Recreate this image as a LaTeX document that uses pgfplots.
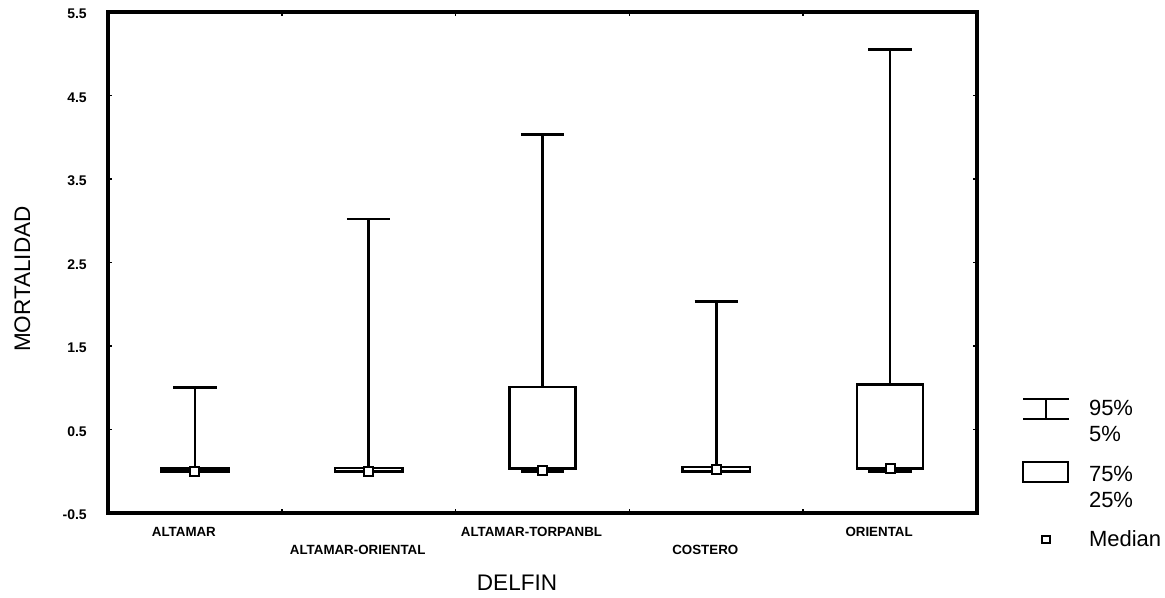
\documentclass[border=0pt]{standalone}
\usepackage{fontspec}
\setmainfont{Liberation Sans}
\usepackage{pgfplots}
\pgfplotsset{compat=1.18}
\usepgfplotslibrary{statistics}

\begin{document}
\begin{tikzpicture}
\useasboundingbox (-81pt,-63.75pt) rectangle (792.75pt,384.75pt);
\begin{axis}[
  at={(0pt,0pt)}, anchor=south west,
  scale only axis,
  width=651.75pt, height=375.75pt,
  xmin=-0.5, xmax=4.5,
  ymin=-0.5, ymax=5.5,
  axis line style={line width=2.3pt},
  tick style={line width=1.2pt, black},
  major tick length=3pt, minor tick length=3pt,
  ytick={-0.5,0.5,1.5,2.5,3.5,4.5,5.5},
  yticklabel style={font=\bfseries\fontsize{10.5}{12}\selectfont, inner sep=0pt, xshift=-15.75pt, yshift=-1.5pt},
  /pgf/number format/.cd, fixed, fixed zerofill, precision=1, assume math mode=true,
  /pgfplots/.cd,
  xtick={0,1,2,3,4},
  major x tick style={draw=none},
  minor xtick={0.5,1.5,2.5,3.5},
  xticklabels={ALTAMAR, \raisebox{-13.5pt}[\height][\depth]{ALTAMAR-ORIENTAL}, ALTAMAR-TORPANBL, \raisebox{-13.5pt}[\height][\depth]{COSTERO}, ORIENTAL},
  xticklabel style={font=\bfseries\fontsize{10}{12}\selectfont, inner sep=0pt, yshift=-10.5pt, xshift=-8.25pt, anchor=north},
  xlabel={DELFIN},
  xlabel style={at={(axis description cs:0.4707,-0.1397)}, anchor=center, font=\fontsize{16.9}{20}\selectfont},
  ylabel={MORTALIDAD},
  ylabel style={at={(axis description cs:-0.0984,0.467)}, anchor=center, font=\fontsize{16.9}{20}\selectfont},
  boxplot/draw direction=y,
  boxplot/every median/.style={draw=none},
  legend style={at={(axis description cs:1.0518,0.2295)}, anchor=north west,
    draw=none, fill=none, inner sep=0pt, outer sep=0pt,
    row sep=12pt, column sep=14.25pt,
    nodes={inner sep=0pt, font=\fontsize{16.5}{19.5}\selectfont},
    cells={anchor=west, align=left}},
]
% percentile boxes: whiskers at 5%/95%, boxes at 25%/75%
\addplot[forget plot, black, line width=1.9pt, boxplot prepared={draw position=0,
  lower whisker=0, lower quartile=0, median=0, upper quartile=0.03, upper whisker=1.0,
  box extend=0.39, whisker extend=0.25}] coordinates {};
\addplot[forget plot, black, line width=1.9pt, boxplot prepared={draw position=1,
  lower whisker=0, lower quartile=0, median=0, upper quartile=0.04, upper whisker=3.02,
  box extend=0.39, whisker extend=0.25}] coordinates {};
\addplot[forget plot, black, line width=1.9pt, boxplot prepared={draw position=2,
  lower whisker=0, lower quartile=0.03, median=0.01, upper quartile=1.01, upper whisker=4.03,
  box extend=0.38, whisker extend=0.25}] coordinates {};
\addplot[forget plot, black, line width=1.9pt, boxplot prepared={draw position=3,
  lower whisker=0, lower quartile=0, median=0.02, upper quartile=0.05, upper whisker=2.03,
  box extend=0.39, whisker extend=0.25}] coordinates {};
\addplot[forget plot, black, line width=1.9pt, boxplot prepared={draw position=4,
  lower whisker=0, lower quartile=0.03, median=0.03, upper quartile=1.04, upper whisker=5.05,
  box extend=0.38, whisker extend=0.25}] coordinates {};
% medians
\addplot[forget plot, only marks, mark=square*, mark size=3.4pt,
  mark options={fill=white, draw=black, line width=1.4pt}]
  coordinates {(0,0) (1,0) (2,0.01) (3,0.02) (4,0.03)};

\addlegendimage{legend image code/.code={
  \path (0pt,-17.25pt) (0pt,17.25pt);
  \draw[line width=1.5pt] (0pt,17.25pt) -- (34.5pt,17.25pt)
    (0pt,2.25pt) -- (34.5pt,2.25pt) (17.25pt,2.25pt) -- (17.25pt,17.25pt);
}}
\addlegendentry{95\%\\5\%}
\addlegendimage{legend image code/.code={
  \path (0pt,-19.5pt) (0pt,19.5pt);
  \draw[line width=1.5pt] (0pt,4.5pt) rectangle (34pt,19.5pt);
}}
\addlegendentry{75\%\\25\%}
\addlegendimage{legend image code/.code={
  \path (0pt,0pt) (34.5pt,0pt);
  \draw[line width=1.2pt, fill=white] (14.25pt,-2.6pt) rectangle (20.25pt,2.6pt);
}}
\addlegendentry{Median}
\end{axis}
\end{tikzpicture}
\end{document}
